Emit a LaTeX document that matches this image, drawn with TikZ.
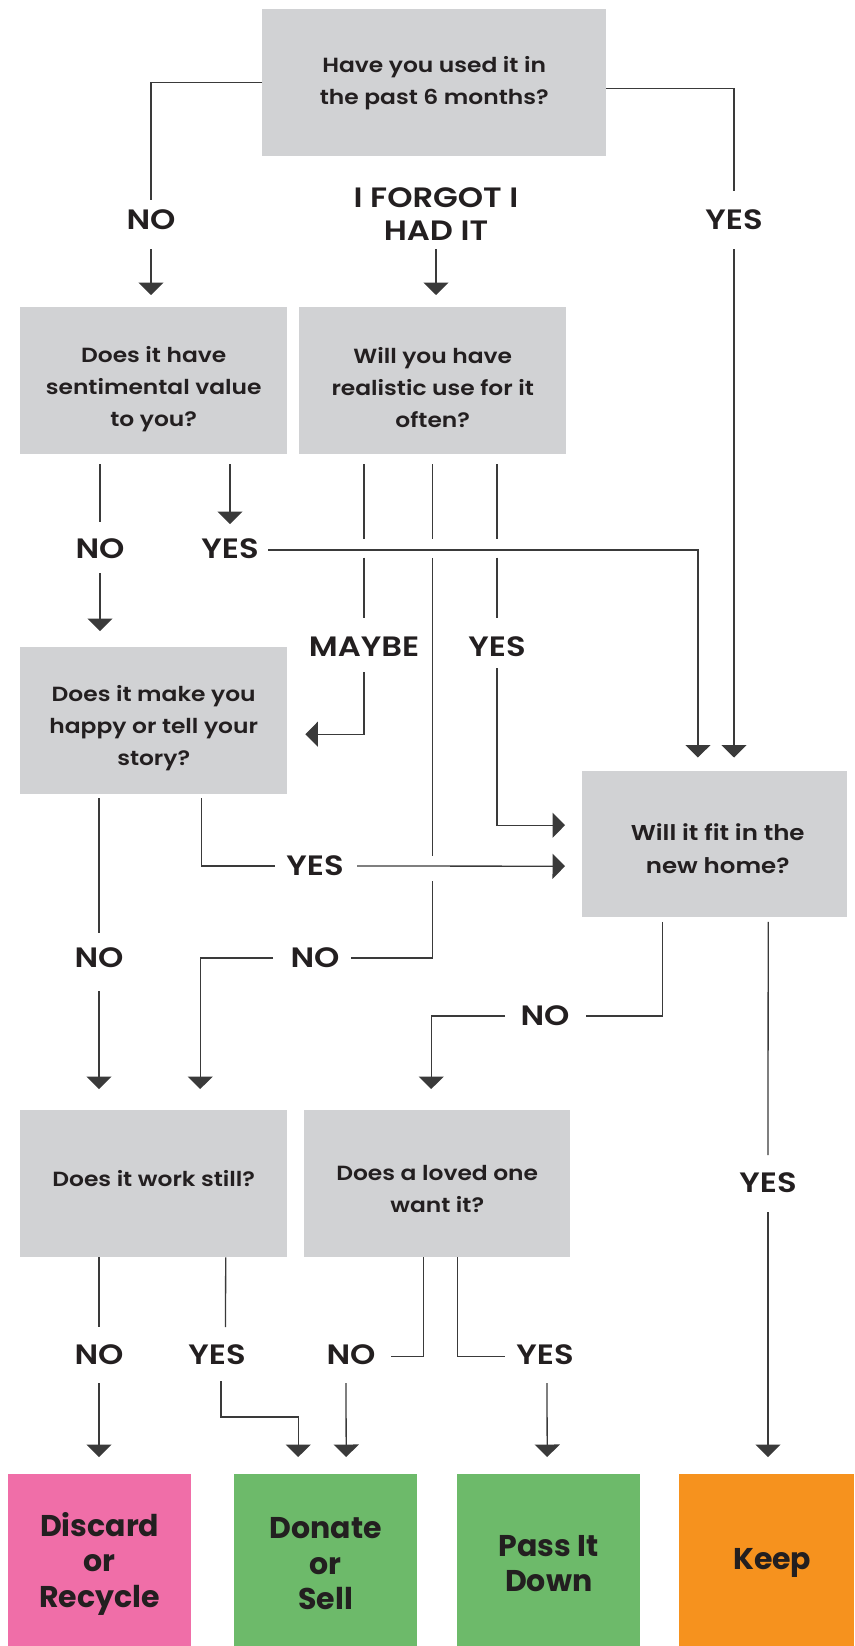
\documentclass[tikz,border=0pt]{standalone}
\usepackage{fontspec}
\setmainfont{Poppins}[UprightFont=* Medium, BoldFont=* SemiBold]
\newfontfamily\popbold{Poppins Bold}
\newfontfamily\boxfont{Poppins SemiBold}[FakeStretch=1.14]
\newfontfamily\labfont{Poppins SemiBold}[FakeStretch=1.15]
\usetikzlibrary{arrows.meta,calc}
\definecolor{boxgray}{HTML}{D1D2D4}
\definecolor{ink}{HTML}{231F20}
\definecolor{lineclr}{HTML}{3A3A3A}
\definecolor{pinkc}{HTML}{F06EA8}
\definecolor{greenc}{HTML}{6DBA6A}
\definecolor{orangec}{HTML}{F6921E}
\begin{document}
\begin{tikzpicture}[x=1pt,y=-1pt,
  ln/.style={draw=lineclr, line width=1.3pt},
  arr/.style={ln, -{Triangle[length=12.5pt,width=25pt]}},
  qbox/.style={fill=boxgray, draw=none, inner sep=0pt, anchor=north west,
    minimum height=147pt, minimum width=267pt},
  qtext/.style={inner sep=0pt, text=ink, align=center,
    font=\boxfont\fontsize{20.5}{32}\selectfont},
  fbox/.style={draw=none, inner sep=0pt, anchor=north west,
    minimum height=172pt, minimum width=183pt},
  ftext/.style={inner sep=0pt, text=ink, align=center,
    font=\popbold\fontsize{30}{35.5}\selectfont},
  lab/.style={inner sep=0pt, text=ink, align=center,
    font=\labfont\fontsize{28}{33}\selectfont}]
\useasboundingbox (0,0) rectangle (854,1646);

% question boxes
\node[qbox, minimum width=344pt] (q1) at (262,9) {};
\node[qbox] (q2) at (20,307) {};
\node[qbox] (q3) at (299,307) {};
\node[qbox] (q4) at (20,647) {};
\node[qbox, minimum width=265pt, minimum height=146pt] (q5) at (582,771) {};
\node[qbox] (q6) at (20,1110) {};
\node[qbox, minimum width=266pt] (q7) at (304,1110) {};

\node[qtext] (t1) at ($(q1.center)+(0,0)$) {Have you used it in\\the past 6 months?};
\node[qtext] (t2) at ($(q2.center)+(0,8)$) {Does it have\\sentimental value\\to you?};
\node[qtext] (t3) at ($(q3.center)+(0,7)$) {Will you have\\realistic use for it\\often?};
\node[qtext] (t4) at ($(q4.center)+(0,7)$) {Does it make you\\happy or tell your\\story?};
\node[qtext, font=\boxfont\fontsize{21.5}{33}\selectfont] (t5) at ($(q5.center)+(3,4)$) {Will it fit in the\\new home?};
\node[qtext] (t6) at ($(q6.center)+(0,-5)$) {Does it work still?};
\node[qtext] (t7) at ($(q7.center)+(0,5)$) {Does a loved one\\want it?};

% outcome boxes
\node[fbox, fill=pinkc] (discard) at (8,1474) {};
\node[fbox, fill=greenc] (donate) at (234,1474) {};
\node[fbox, fill=greenc] (pass) at (457,1474) {};
\node[fbox, fill=orangec, minimum width=175pt] (keep) at (679,1474) {};
\node[ftext] (td) at ($(discard.center)+(0,3.5)$) {Discard\\or\\Recycle};
\node[ftext] (ts) at ($(donate.center)+(0,3.5)$) {Donate\\or\\Sell};
\node[ftext] (tp) at ($(pass.center)+(0,3.5)$) {Pass It\\Down};
\node[ftext] (tk) at ($(keep.center)+(5.5,3)$) {Keep};

% labels
\node[lab] (nA) at (151,220) {NO};
\node[lab] (nF) at (436,214) {I FORGOT I\\HAD IT};
\node[lab] (nB) at (734,220) {YES};
\node[lab] (nC) at (100,549) {NO};
\node[lab] (nD) at (230,549) {YES};
\node[lab] (nE) at (364,647) {MAYBE};
\node[lab] (nG) at (497,647) {YES};
\node[lab] (nJ) at (315,866) {YES};
\node[lab] (nI) at (99,958) {NO};
\node[lab] (nH) at (315,958) {NO};
\node[lab] (nK) at (545,1016) {NO};
\node[lab] (nL) at (768,1183) {YES};
\node[lab] (nM) at (99,1355) {NO};
\node[lab] (nN) at (217,1355) {YES};
\node[lab] (nO) at (351,1355) {NO};
\node[lab] (nP) at (545,1355) {YES};

% q1
\draw[ln] (q1.west) -| ($(nA)+(0,-20)$);
\draw[arr] ($(nA)+(0,29)$) -- ($(q2.north -| nA)+(0,-12)$);
\draw[ln] ([yshift=-5.5pt]q1.east) -| ($(nB)+(0,-29)$);
\draw[arr] ($(nB)+(0,29)$) -- ($(q5.north -| nB)+(0,-13.5)$);
\draw[arr] ($(nF)+(0,35)$) -- ($(q3.north -| nF)+(0,-12)$);

% q2
\draw[ln] ($(q2.south -| nC)+(0,10)$) -- ($(nC)+(0,-27)$);
\draw[arr] ($(nC)+(0,24)$) -- ($(q4.north -| nC)+(0,-16)$);
\draw[arr] ($(q2.south -| nD)+(0,10)$) -- ($(nD)+(0,-25)$);
\draw[arr] ($(nD)+(38,1)$) -| ($(q5.north)+(-16.8,-13.5)$);

% q3
\draw[ln] ($(q3.south -| nE)+(0,10)$) -- ($(nE)+(0,-108.4)$);
\draw[ln] ($(nE)+(0,-89.5)$) -- ($(nE)+(0,-29)$);
\draw[arr] ($(nE)+(0,25)$) |- ($(q4.east)+(18,13.5)$);
\draw[ln] ($(q3.south -| nG)+(0,10)$) -- ($(nG)+(0,-108.4)$);
\draw[ln] ($(nG)+(0,-89.5)$) -- ($(nG)+(0,-29)$);
\draw[arr] ($(nG)+(0,21)$) |- ($(q5.west)+(-17,-19)$);
\draw[ln] ($(q3.south)+(0,10)$) -- ++(0,74.6);
\draw[ln] ($(q3.south)+(0,103.5)$) -- ++(0,298.5);
\draw[ln] ($(q3.south)+(0,427)$) |- ($(nH)+(36,0)$);
\draw[arr] ($(nH)+(-42,0)$) -| ($(q6.north)+(46.5,-21)$);

% q4
\draw[ln] ($(q4.south -| nI)+(0,4)$) -- ($(nI)+(0,-25.5)$);
\draw[arr] ($(nI)+(0,33)$) -- ($(q6.north -| nI)+(0,-21)$);
\draw[ln] ($(q4.south)+(47.5,4)$) |- ($(nJ)+(-40,0)$);
\draw[arr] ($(nJ)+(42,0)$) -- ($(q5.west)+(-17,22)$);

% q5
\draw[ln] ($(q5.south)+(-52.5,4.5)$) |- ($(nK)+(40.5,0)$);
\draw[arr] ($(nK)+(-40,0)$) -| ($(q7.north)+(-6,-21)$);
\draw[ln] ($(q5.south)+(53.5,4.5)$) -- ($(nL)+(0,-28)$);
\draw[arr] ($(nL)+(0,29)$) -- ($(keep.north -| nL)+(0,-17)$);

% q6
\draw[ln] (q6.south -| nM) -- ($(nM)+(0,-28)$);
\draw[arr] ($(nM)+(0,28)$) -- ($(discard.north -| nM)+(0,-17)$);
\draw[ln] ($(q6.south)+(72,0)$) -- ($(nN)+(8.5,-28)$);
\draw[arr] ($(nN)+(4,26)$) -- ($(nN)+(4,62)$) -| ($(donate.north)+(-27.5,-17)$);

% q7
\draw[ln] ($(q7.south)+(-14,0)$) |- ($(nO)+(40,1.6)$);
\draw[arr] ($(nO)+(-5,28)$) -- ($(donate.north)+(20.5,-17)$);
\draw[ln] ($(q7.south)+(20.5,0)$) |- ($(nP)+(-40,1.6)$);
\draw[arr] ($(nP)+(2,28)$) -- ($(pass.north)+(-1.5,-17)$);
\end{tikzpicture}
\end{document}
